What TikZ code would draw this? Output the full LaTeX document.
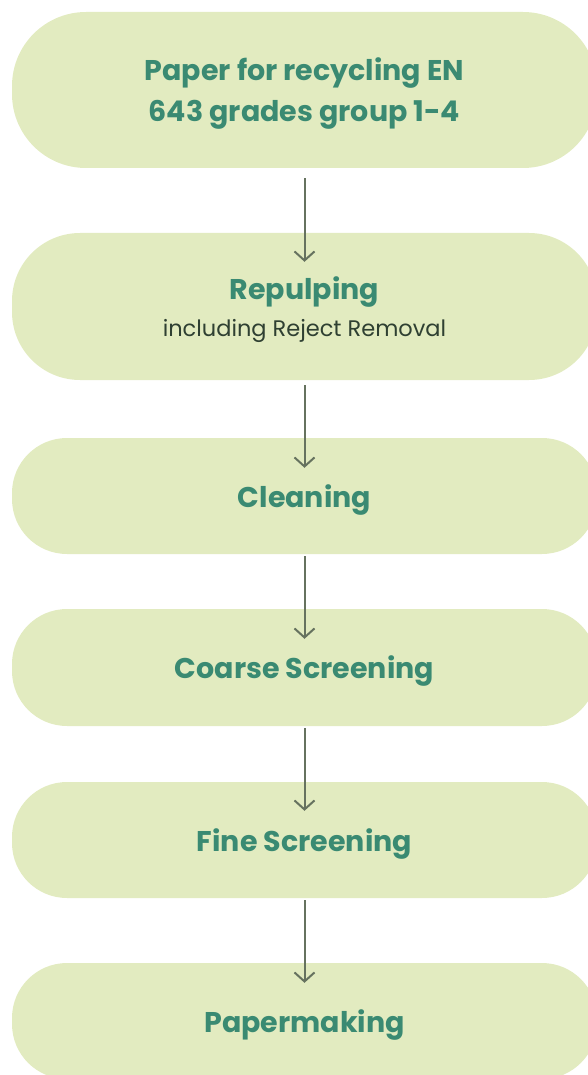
\documentclass[tikz,border=0pt]{standalone}
\usepackage{fontspec}
\setmainfont{Poppins}
\usetikzlibrary{arrows.meta}
\definecolor{stepfill}{HTML}{E2EBC0}
\definecolor{steptext}{HTML}{3A8A72}
\definecolor{subtext}{HTML}{2F4032}
\definecolor{flowline}{HTML}{66725F}

\begin{document}
\begin{tikzpicture}[x=1pt, y=-1pt,
    every node/.style={fill=stepfill, minimum width=585pt, align=center, inner sep=0pt, text depth=0pt, text=steptext, font=\bfseries\fontsize{28.5}{41}\selectfont},
    flowarrow/.style={flowline, line width=2pt, -{Straight Barb[length=9pt,width=20pt]}}]
    \useasboundingbox (0,0) rectangle (588,1075);
    \node[minimum height=156pt, rounded corners=74pt] (paper) at (304.5,90) {Paper for recycling EN\\643 grades group 1-4};
    \node[minimum height=147pt, rounded corners=68pt] (repulp) at (304.5,306.5) {Repulping\\[-4pt]{\mdseries\fontsize{22.5}{24}\selectfont\color{subtext}including Reject Removal}};
    \node[minimum height=116pt, rounded corners=55pt] (clean) at (304.5,496) {Cleaning};
    \node[minimum height=117pt, rounded corners=55pt] (coarse) at (304.5,667.5) {Coarse Screening};
    \node[minimum height=116pt, rounded corners=55pt] (fine) at (304.5,840) {Fine Screening};
    \node[minimum height=116pt, rounded corners=55pt] (papmk) at (304.5,1021) {Papermaking};
    \draw[flowarrow] ([yshift=-10pt]paper.south) -- ([yshift=-29pt]repulp.north);
    \draw[flowarrow] ([yshift=-5pt]repulp.south) -- ([yshift=-30pt]clean.north);
    \draw[flowarrow] ([yshift=-2pt]clean.south) -- ([yshift=-30pt]coarse.north);
    \draw[flowarrow] ([yshift=-2pt]coarse.south) -- ([yshift=-29pt]fine.north);
    \draw[flowarrow] ([yshift=-2pt]fine.south) -- ([yshift=-20pt]papmk.north);
\end{tikzpicture}
\end{document}
